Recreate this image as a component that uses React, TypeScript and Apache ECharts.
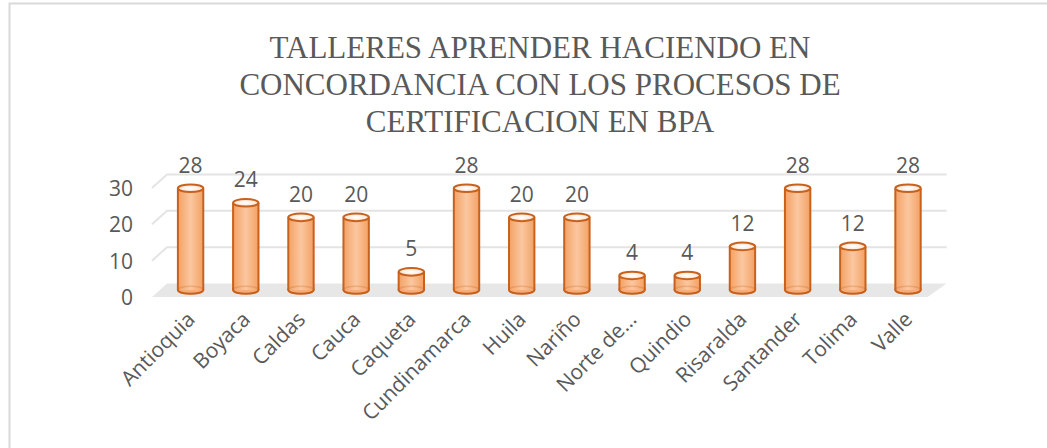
import React, { useEffect, useRef } from 'react';
import * as echarts from 'echarts';

const categories = ['Antioquia', 'Boyaca', 'Caldas', 'Cauca', 'Caqueta', 'Cundinamarca', 'Huila', 'Nariño', 'Norte de…', 'Quindio', 'Risaralda', 'Santander', 'Tolima', 'Valle'];
const values = [28, 24, 20, 20, 5, 28, 20, 20, 4, 4, 12, 28, 12, 28];
const yTicks = [0, 10, 20, 30];
const titleText = 'TALLERES APRENDER HACIENDO EN\nCONCORDANCIA CON LOS PROCESOS DE\nCERTIFICACION EN BPA';

const DEPTH_Y = 13.5;
const MID_Y = 7;
const TEXT = '#595959';
const EDGE = '#C8611C';
const SANS = 'Open Sans';

export default function App() {
  const ref = useRef<HTMLDivElement>(null);
  useEffect(() => {
    if (!ref.current) return;
    const chart = echarts.init(ref.current, null, { renderer: 'svg' });
    chart.setOption({
      animation: false,
      backgroundColor: '#ffffff',
      title: {
        text: titleText,
        left: 535,
        top: 24,
        textAlign: 'center',
        textStyle: {
          fontFamily: 'Liberation Serif',
          fontSize: 31,
          fontWeight: 'normal',
          color: TEXT,
          lineHeight: 37,
        },
      },
      graphic: [
        {
          type: 'rect',
          shape: { x: 9.5, y: 3.5, width: 1100, height: 500 },
          style: { fill: 'none', stroke: '#d9d9d9', lineWidth: 2 },
          silent: true,
        },
      ],
      grid: { left: 163, right: 111.4, top: 188, bottom: 151 },
      xAxis: {
        type: 'category',
        data: categories,
        axisLine: { show: false },
        axisTick: { show: false },
        axisLabel: {
          rotate: 45,
          interval: 0,
          margin: 18,
          color: TEXT,
          fontSize: 21,
          fontFamily: SANS,
        },
      },
      yAxis: {
        type: 'value',
        min: 0,
        max: 30,
        interval: 10,
        axisLine: { show: false },
        axisTick: { show: false },
        splitLine: { show: false },
        axisLabel: {
          margin: 30,
          color: TEXT,
          fontSize: 21,
          fontFamily: SANS,
        },
      },
      series: [
        {
          type: 'custom',
          silent: true,
          z: 1,
          data: yTicks.map((v) => [0, v]),
          encode: { x: 0, y: 1 },
          renderItem: (params: any, api: any) => {
            const cs = params.coordSys;
            const v = api.value(1);
            const yFront = api.coord([0, v])[1];
            const yBack = yFront - DEPTH_Y;
            const fl = cs.x - 11;
            const bl = cs.x + 4;
            const fr = cs.x + cs.width - 8;
            const br = cs.x + cs.width + 11;
            if (v === 0) {
              return {
                type: 'polygon',
                shape: { points: [[fl, yFront], [fr, yFront], [br, yBack], [bl, yBack]] },
                style: { fill: '#e7e7e7' },
              };
            }
            return {
              type: 'polyline',
              shape: { points: [[fl, yFront], [bl, yBack], [br, yBack]] },
              style: { stroke: '#e4e4e4', lineWidth: 2, fill: null },
            };
          },
        },
        {
          type: 'custom',
          silent: true,
          z: 2,
          data: values.map((v, i) => [i, v]),
          encode: { x: 0, y: 1 },
          renderItem: (params: any, api: any) => {
            const idx = api.value(0);
            const v = api.value(1);
            const base = api.coord([idx, 0]);
            const top = api.coord([idx, v]);
            const cx = base[0];
            const yb = base[1] - MID_Y;
            const yt = top[1] - MID_Y;
            const w = api.size([1, 0])[0] * 0.46;
            const rx = w / 2;
            const ry = 3.8;
            return {
              type: 'group',
              children: [
                {
                  type: 'ellipse',
                  shape: { cx, cy: yb, rx, ry },
                  style: { fill: '#F6AC78', stroke: EDGE, lineWidth: 2 },
                },
                {
                  type: 'rect',
                  shape: { x: cx - rx, y: yt, width: w, height: yb - yt },
                  style: {
                    fill: {
                      type: 'linear', x: 0, y: 0, x2: 1, y2: 0,
                      colorStops: [
                        { offset: 0, color: '#F3A164' },
                        { offset: 0.5, color: '#FBC7A0' },
                        { offset: 1, color: '#F3A164' },
                      ],
                    },
                  },
                },
                {
                  type: 'ellipse',
                  shape: { cx, cy: yb, rx, ry },
                  style: { fill: 'none', stroke: 'rgba(200,97,28,0.25)', lineWidth: 1.5 },
                },
                {
                  type: 'line',
                  shape: { x1: cx - rx, y1: yt, x2: cx - rx, y2: yb },
                  style: { stroke: EDGE, lineWidth: 2 },
                },
                {
                  type: 'line',
                  shape: { x1: cx + rx, y1: yt, x2: cx + rx, y2: yb },
                  style: { stroke: EDGE, lineWidth: 2 },
                },
                {
                  type: 'ellipse',
                  shape: { cx, cy: yt, rx, ry },
                  style: {
                    fill: {
                      type: 'radial', x: 0.5, y: 0.5, r: 0.5,
                      colorStops: [
                        { offset: 0, color: '#FFFFFF' },
                        { offset: 1, color: '#FCE3D1' },
                      ],
                    },
                    stroke: EDGE,
                    lineWidth: 2,
                  },
                },
              ],
            };
          },
        },
        {
          type: 'bar',
          silent: true,
          z: 3,
          data: values,
          barWidth: 1,
          itemStyle: { color: 'rgba(0,0,0,0)' },
          label: {
            show: true,
            position: 'top',
            distance: 20,
            color: TEXT,
            fontSize: 21,
            fontFamily: SANS,
          },
        },
      ],
    });
    return () => chart.dispose();
  }, []);
  return (
    <div
      ref={ref}
      style={{ position: 'absolute', left: 0, top: 0, width: 1047, height: 448 }}
    />
  );
}
